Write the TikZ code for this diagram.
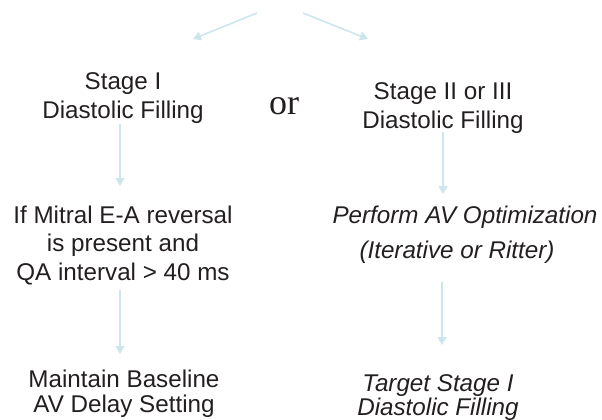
\documentclass[tikz,border=0pt]{standalone}
\usepackage{fontspec}
\setmainfont{Liberation Sans}
\newfontfamily\serifor{Liberation Serif}
\usetikzlibrary{arrows.meta}
\definecolor{arrowblue}{RGB}{205,230,236}
\definecolor{textdark}{RGB}{35,31,32}
\tikzset{
  lbl/.style={inner sep=0pt, outer sep=0pt, align=center, anchor=base, text=textdark,
    font=\fontsize{24.2}{28.5}\selectfont},
  tlbl/.style={lbl, font=\fontsize{24.2}{25}\selectfont},
  ilbl/.style={lbl, font=\fontsize{24.2}{23.5}\selectfont\itshape},
  arr/.style={draw=arrowblue, line width=1.6pt, -{Triangle[length=8pt,width=9pt]}}
}
\begin{document}
\begin{tikzpicture}[x=1pt,y=-1pt]
\useasboundingbox (0,0) rectangle (602,420);
% texts (anchor = baseline of the last line)
\node[lbl] (s1) at (123,118) {Stage I\\Diastolic Filling};
\node[lbl] (s23) at (443,128) {Stage II or III\\Diastolic Filling};
\node[inner sep=0pt, anchor=base, text=textdark, font=\serifor\fontsize{36}{40}\selectfont] (or) at (284,114) {or};
\node[lbl] (cond) at (123,280) {If Mitral E-A reversal\\is present and\\QA interval > 40 ms};
\node[ilbl] (perf) at (465,223) {Perform AV Optimization};
\node[ilbl] (iter) at (457,258) {(Iterative or Ritter)};
\node[tlbl] (maint) at (124,412) {Maintain Baseline\\AV Delay Setting};
\node[ilbl] (targ) at (438,415) {Target Stage I\\Diastolic Filling};
% arrow endpoints
\coordinate (t0l) at (257,13);
\coordinate (t1l) at (193,39);
\coordinate (t0r) at (303,13);
\coordinate (t1r) at (368,39);
\coordinate (a1s) at (120,124);
\coordinate (a1e) at (120,186);
\coordinate (b1s) at (443,132);
\coordinate (b1e) at (443,194);
\coordinate (a2s) at (120,290);
\coordinate (a2e) at (120,354);
\coordinate (b2s) at (442,282);
\coordinate (b2e) at (442,345);
% arrows
\draw[arr] (t0l) -- (t1l);
\draw[arr] (t0r) -- (t1r);
\draw[arr] (a1s) -- (a1e);
\draw[arr] (b1s) -- (b1e);
\draw[arr] (a2s) -- (a2e);
\draw[arr] (b2s) -- (b2e);
\end{tikzpicture}
\end{document}
